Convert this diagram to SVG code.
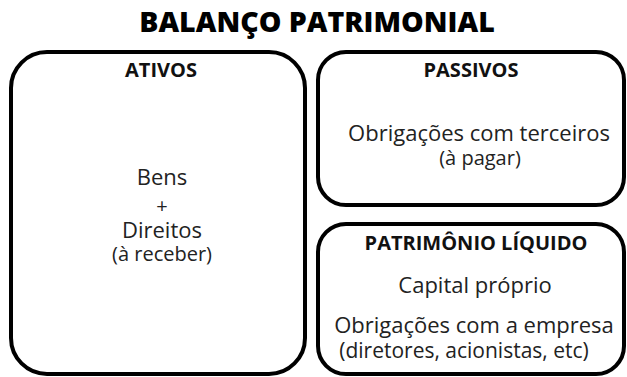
<svg xmlns="http://www.w3.org/2000/svg" width="627" height="377" viewBox="0 0 627 377">
<style>
.box{fill:#fff;stroke:#000;stroke-width:4}
text{font-family:"Open Sans","Liberation Sans",sans-serif;fill:#222;text-anchor:middle}
.title{font-size:28.5px;font-weight:800;fill:#000}
.h{font-size:20px;font-weight:700;fill:#111}
.t{font-size:22px}
.s{font-size:20px}
.d{font-size:21px}
</style>
<rect width="627" height="377" fill="#fff"/>
<text class="title" x="317" y="32">BALANÇO PATRIMONIAL</text>
<g id="ativos">
<rect class="box" x="11" y="52" width="294" height="322" rx="36"/>
<text class="h" x="161" y="77">ATIVOS</text>
<text class="t" x="162" y="185">Bens</text>
<text class="s" x="162" y="213">+</text>
<text class="t" x="162" y="238">Direitos</text>
<text class="s" x="162" y="261">(à receber)</text>
</g>
<g id="passivos">
<rect class="box" x="318" y="52" width="306" height="153" rx="28"/>
<text class="h" x="471" y="77">PASSIVOS</text>
<text class="t" x="479" y="141">Obrigações com terceiros</text>
<text class="s" x="480" y="165">(à pagar)</text>
</g>
<g id="pl">
<rect class="box" x="318" y="224" width="306" height="150" rx="28"/>
<text class="h" x="476" y="250">PATRIMÔNIO LÍQUIDO</text>
<text class="t" x="475" y="293">Capital próprio</text>
<text class="t" x="474" y="333">Obrigações com a empresa</text>
<text class="d" x="464" y="358">(diretores, acionistas, etc)</text>
</g>
<g id="connectors"/>
</svg>
